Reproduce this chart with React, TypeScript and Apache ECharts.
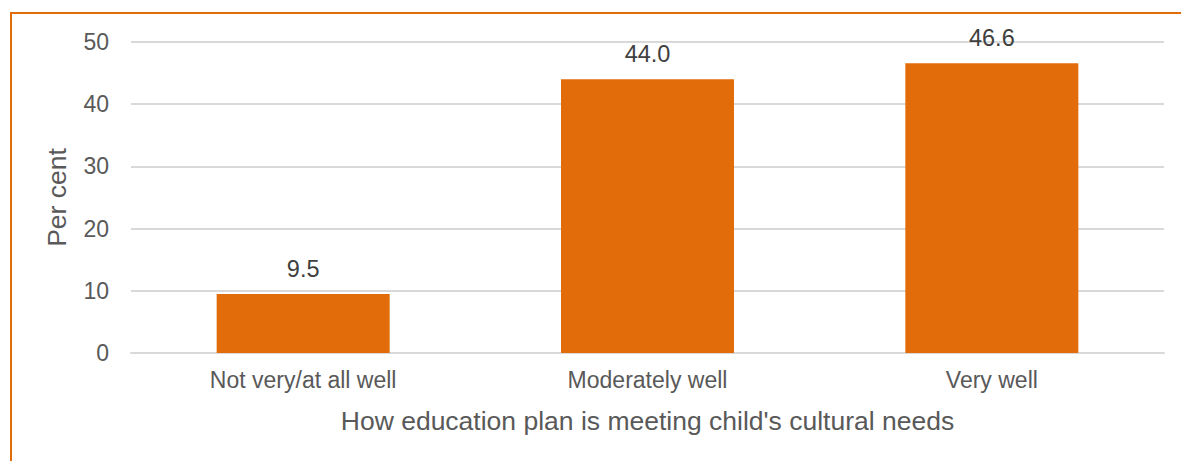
import React, { useEffect, useRef } from "react";
import * as echarts from "echarts";

const categories = ["Not very/at all well", "Moderately well", "Very well"];
const values = [9.5, 44.0, 46.6];
const yAxisName = "Per cent";
const xAxisName = "How education plan is meeting child's cultural needs";

export default function App() {
  const ref = useRef<HTMLDivElement>(null);
  useEffect(() => {
    if (!ref.current) return;
    const chart = echarts.init(ref.current, undefined, { renderer: "svg" });
    const font = "'Liberation Sans', Arial, sans-serif";
    chart.setOption({
      animation: false,
      backgroundColor: "#ffffff",
      textStyle: { fontFamily: font },
      graphic: [
        {
          type: "rect",
          shape: { x: 11, y: 13, width: 1250, height: 600 },
          style: { fill: "none", stroke: "#E36C0A", lineWidth: 2 },
          silent: true,
        },
      ],
      grid: { left: 131, right: 17, top: 42, bottom: 108, containLabel: false },
      xAxis: {
        type: "category",
        data: categories,
        axisTick: { show: false },
        axisLine: { lineStyle: { color: "#d9d9d9", width: 2 } },
        axisLabel: { color: "#595959", fontSize: 23, margin: 15, fontFamily: font },
        name: xAxisName,
        nameLocation: "middle",
        nameGap: 54,
        nameTextStyle: { color: "#595959", fontSize: 26.5, fontFamily: font },
      },
      yAxis: {
        type: "value",
        min: 0,
        max: 50,
        interval: 10,
        axisLine: { show: false },
        axisTick: { show: false },
        splitLine: { lineStyle: { color: "#d9d9d9", width: 2 } },
        axisLabel: { color: "#595959", fontSize: 23, margin: 22, fontFamily: font },
        name: yAxisName,
        nameLocation: "middle",
        nameGap: 61,
        nameRotate: 90,
        nameTextStyle: { color: "#595959", fontSize: 26.5, fontFamily: font },
      },
      series: [
        {
          type: "bar",
          data: values,
          barWidth: 173,
          itemStyle: { color: "#E36C0A" },
          label: {
            show: true,
            position: "top",
            distance: 13,
            formatter: (p: any) => Number(p.value).toFixed(1),
            color: "#404040",
            fontSize: 23.5,
            fontFamily: font,
          },
        },
      ],
    });
    return () => chart.dispose();
  }, []);
  return (
    <div
      ref={ref}
      style={{ position: "absolute", left: 0, top: 0, width: 1181, height: 461 }}
    />
  );
}
